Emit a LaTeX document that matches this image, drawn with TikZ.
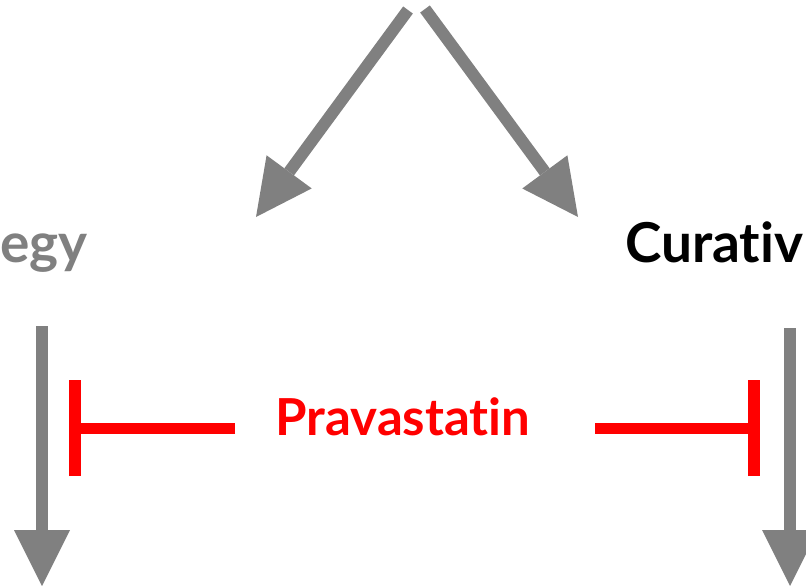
\documentclass[tikz,border=0pt]{standalone}
\usepackage{fontspec}
\setmainfont{Lato}[Ligatures=NoCommon]
\usetikzlibrary{arrows.meta}
\definecolor{arrowgray}{HTML}{808080}
\definecolor{blockred}{HTML}{FF0000}
\tikzset{
  fatarrow/.style={draw=arrowgray, line width=12pt, -{Triangle[length=56pt,width=56pt,line width=0pt]}},
  blockline/.style={draw=blockred, line width=11pt},
  blockbar/.style={draw=blockred, line width=12pt},
  word/.style={font=\fontsize{55}{64}\selectfont\bfseries, inner sep=0pt}
}
\begin{document}
\begin{tikzpicture}[x=1pt,y=-1pt]
\clip (0,0) rectangle (806,586);

% the two arrows from the top
\coordinate (vl) at (408,10);
\coordinate (vr) at (425,9);
\coordinate (tl) at (256,217);
\coordinate (tr) at (578,217);
\draw[fatarrow] (vl) -- (tl);
\draw[fatarrow] (vr) -- (tr);

\node[word, text=arrowgray, anchor=base west] (strat) at (0,262) {egy};
\node[word, text=black, anchor=base west] (curat) at (625,262) {Curativ};

% down arrows
\coordinate (sl) at (42,326);
\coordinate (el) at (42,586);
\coordinate (sr) at (790,328);
\coordinate (er) at (790,586);
\draw[fatarrow] (sl) -- (el);
\draw[fatarrow] (sr) -- (er);

% the drug and its blocks
\node[word, font=\fontsize{51}{60}\selectfont\bfseries, text=blockred, anchor=base] (prava) at (403,435) {Pravastatin};
\coordinate (pl) at (235,428);
\coordinate (pr) at (595,428);
\coordinate (bl) at (75,428);
\coordinate (br) at (754,428);
\draw[blockline] (pl) -- (bl);
\draw[blockline] (pr) -- (br);
\draw[blockbar] ([yshift=-48pt]bl) -- ([yshift=48pt]bl);
\draw[blockbar] ([yshift=-48pt]br) -- ([yshift=48pt]br);

\end{tikzpicture}
\end{document}
